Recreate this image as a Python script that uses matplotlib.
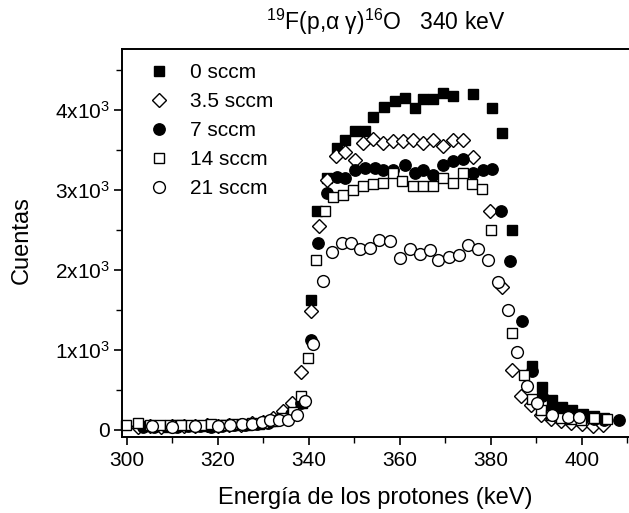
import matplotlib
matplotlib.use("Agg")
import matplotlib.pyplot as plt
from matplotlib.ticker import MultipleLocator, FixedLocator, FixedFormatter

plt.rcParams['font.family'] = ['Liberation Sans', 'DejaVu Sans']
plt.rcParams['mathtext.fontset'] = 'custom'
plt.rcParams['mathtext.rm'] = 'Liberation Sans'
plt.rcParams['mathtext.it'] = 'Liberation Sans:italic'
plt.rcParams['mathtext.bf'] = 'Liberation Sans:bold'

# ---- data ----
labels = ['0 sccm', '3.5 sccm', '7 sccm', '14 sccm', '21 sccm']

x0 = [304.0, 306.5, 309.0, 311.5, 314.0, 316.5, 319.0, 321.5, 324.0, 326.5, 329.0, 331.5, 334.0, 336.5,
      338.4, 340.4, 341.7, 343.9, 346.1, 348.0, 350.2, 352.4, 354.2, 356.6, 359.0, 361.2, 363.4, 365.2,
      367.4, 369.6, 371.8, 376.0, 380.2, 382.4, 384.6, 389.0, 391.2, 393.4, 395.6, 397.8, 400.2, 402.6, 405.0]
y0 = [45, 50, 40, 55, 50, 45, 55, 60, 55, 65, 75, 110, 160, 250,
      330, 1625, 2730, 3150, 3520, 3625, 3730, 3730, 3915, 4040, 4115, 4145, 4020, 4135,
      4135, 4210, 4170, 4200, 4020, 3710, 2500, 800, 540, 375, 290, 250, 200, 170, 150]

x1 = [302.5, 305.0, 307.5, 310.0, 312.5, 315.0, 317.5, 320.0, 322.5, 325.0, 327.5, 330.0, 332.2, 334.2,
      336.2, 338.3, 340.4, 342.2, 343.9, 345.9, 348.0, 350.2, 352.0, 354.2, 356.4, 358.6, 360.8, 363.0,
      365.2, 367.4, 369.6, 371.8, 373.8, 376.0, 379.9, 382.4, 384.6, 386.7, 388.8, 391.0, 393.2, 395.4,
      397.6, 400.0, 402.4, 404.6]
y1 = [40, 45, 40, 50, 45, 50, 55, 50, 60, 65, 80, 100, 150, 230,
      330, 720, 1480, 2550, 3125, 3420, 3470, 3375, 3585, 3635, 3585, 3605, 3605, 3625,
      3590, 3625, 3550, 3625, 3625, 3405, 2730, 1790, 750, 420, 310, 190, 140, 110,
      90, 70, 45, 60]

x2 = [303.5, 306.0, 308.5, 311.0, 313.5, 316.0, 318.5, 321.0, 323.5, 326.0, 328.5, 331.0, 333.5, 336.0,
      338.2, 340.4, 342.1, 343.9, 346.1, 348.0, 350.2, 352.4, 354.6, 356.4, 358.6, 361.2, 363.4, 365.2,
      367.4, 369.6, 371.8, 374.0, 376.2, 378.3, 380.2, 382.2, 384.3, 386.8, 389.0, 391.2, 393.4, 395.6,
      397.8, 400.2, 402.6, 405.0, 408.3]
y2 = [40, 35, 45, 40, 50, 45, 40, 50, 55, 60, 70, 90, 130, 200,
      330, 1125, 2340, 2960, 3165, 3145, 3250, 3270, 3270, 3250, 3250, 3310, 3210, 3250,
      3190, 3310, 3355, 3385, 3210, 3250, 3260, 2730, 2105, 1355, 730, 420, 280, 210,
      170, 150, 130, 120, 120]

x3 = [299.8, 302.5, 305.0, 307.3, 309.5, 311.8, 314.0, 316.3, 318.5, 320.8, 323.0, 325.3, 327.5, 329.8,
      332.0, 334.2, 336.4, 338.2, 339.9, 341.6, 343.6, 345.4, 347.6, 349.8, 351.8, 354.0, 356.3, 358.5,
      360.4, 362.9, 365.0, 367.3, 369.5, 371.7, 373.9, 375.8, 378.0, 380.1, 384.6, 387.2, 389.0, 391.1,
      393.3, 395.5, 397.7, 399.9, 402.6, 405.5]
y3 = [62, 83, 60, 60, 62, 60, 65, 60, 70, 65, 70, 70, 80, 90,
      110, 150, 220, 420, 900, 2125, 2730, 2915, 2935, 3000, 3050, 3075, 3085, 3210,
      3105, 3050, 3050, 3050, 3145, 3090, 3210, 3075, 3010, 2500, 1210, 680, 380, 250,
      190, 150, 130, 120, 146, 140]

x4 = [305.4, 310.0, 315.0, 320.1, 322.7, 325.2, 327.4, 329.6, 331.5, 333.5, 335.5, 337.3, 339.2,
      341.0, 343.0, 345.0, 347.2, 349.3, 351.3, 353.5, 355.5, 357.9, 360.1, 362.3, 364.5, 366.7,
      368.5, 370.9, 373.1, 375.1, 377.2, 379.4, 381.5, 383.7, 385.7, 387.9, 390.2, 393.4, 397.0, 399.4]
y4 = [42, 40, 42, 50, 60, 75, 75, 92, 117, 125, 125, 187, 354,
      1075, 1854, 2221, 2333, 2333, 2258, 2271, 2375, 2354, 2146, 2258, 2200, 2242,
      2125, 2158, 2187, 2312, 2258, 2117, 1842, 1492, 971, 550, 330, 190, 165, 165]

xticks = [300, 320, 340, 360, 380, 400]
yticks = [0, 1000, 2000, 3000, 4000]
ytick_labels = ['0', '1x10$^3$', '2x10$^3$', '3x10$^3$', '4x10$^3$']

# ---- figure ----
W, H = 629, 513
fig = plt.figure(figsize=(W / 100, H / 100), dpi=100)
L, R, T, B = 122, 629, 49, 437
ax = fig.add_axes([L / W, 1 - B / H, (R - L) / W, (B - T) / H])

styles = [
    dict(marker='s', ms=7.5, mfc='black', mec='black', mew=1.0),
    dict(marker='D', ms=6.8, mfc='white', mec='black', mew=1.0),
    dict(marker='o', ms=8.2, mfc='black', mec='black', mew=1.0),
    dict(marker='s', ms=7.5, mfc='white', mec='black', mew=1.0),
    dict(marker='o', ms=8.5, mfc='white', mec='black', mew=1.0),
]
series = [(x0, y0), (x1, y1), (x2, y2), (x3, y3), (x4, y4)]
for (xs, ys), st, lab in zip(series, styles, labels):
    ax.plot(xs, ys, linestyle='none', label=lab, clip_on=False, **st)

ax.set_xlim(298.9, 410.4)
ax.set_ylim(-90, 4760)

ax.xaxis.set_major_locator(FixedLocator(xticks))
ax.xaxis.set_minor_locator(MultipleLocator(10))
ax.yaxis.set_major_locator(FixedLocator(yticks))
ax.yaxis.set_major_formatter(FixedFormatter(ytick_labels))
ax.yaxis.set_minor_locator(MultipleLocator(500))

ax.tick_params(axis='both', which='major', direction='out', length=6, width=1.2,
               labelsize=15, pad=3)
ax.tick_params(axis='both', which='minor', direction='out', length=4, width=1.0)
ax.tick_params(axis='x', which='major', pad=4)

for s in ['left', 'bottom', 'top']:
    ax.spines[s].set_linewidth(1.4)
ax.spines['right'].set_visible(False)

fig.text(375 / W, 1 - 498 / H, 'Energía de los protones (keV)', ha='center', va='center', fontsize=17)
fig.text(22 / W, 1 - 240 / H, 'Cuentas', ha='center', va='center', rotation=90, fontsize=17)
fig.text(386 / W, 1 - 22 / H, '$^{19}$F(p,α γ)$^{16}$O   340 keV', ha='center', va='center', fontsize=16.5)

leg = ax.legend(loc='upper left', bbox_to_anchor=(138 / W, 1 - 53 / H), bbox_transform=fig.transFigure,
                frameon=False, fontsize=15, labelspacing=0.48, handletextpad=1.0,
                handlelength=1.0, borderpad=0.0, numpoints=1)

fig.savefig('out.png', dpi=100)
